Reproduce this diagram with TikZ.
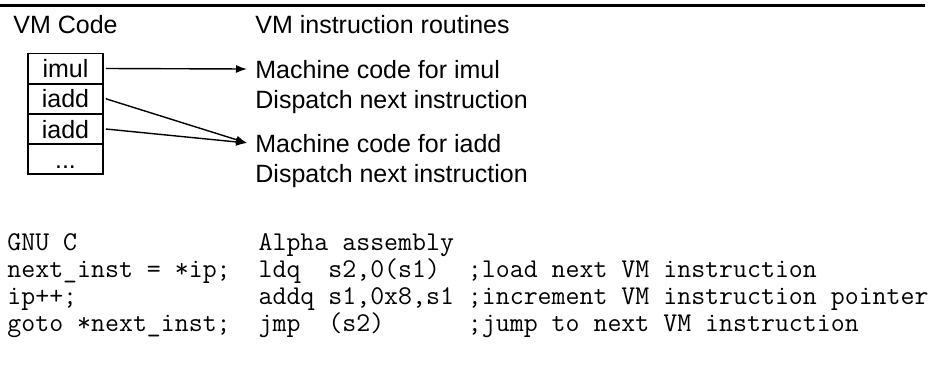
\documentclass[tikz,border=0pt]{standalone}
\usepackage{fontspec}
\setmainfont{Liberation Sans}
\usetikzlibrary{arrows.meta}
\begin{document}
\begin{tikzpicture}[x=0.5pt,y=-0.5pt,
  sans/.style={font=\fontsize{12.5}{15}\selectfont, inner sep=0pt, anchor=base west},
  mono/.style={font=\fontsize{13.55}{15}\selectfont\ttfamily\frenchspacing, inner sep=0pt, anchor=base west},
  cell/.style={draw, line width=0.8pt, minimum width=37.5pt, minimum height=15pt, inner sep=0pt,
    text height=9pt, text depth=0pt, font=\fontsize{12.5}{15}\selectfont},
  link/.style={line width=0.7pt, -{Latex[length=5.5pt,width=4pt]}}]
\useasboundingbox (0,0) rectangle (930,370);
\draw[line width=1.5pt] (0,5) coordinate (r0) -- (925,5) coordinate (r1);
\node[sans] (hvm) at (13,33) {VM Code};
\node[sans] (hroute) at (255,33) {VM instruction routines};
\node[cell] (c1) at (65.5,68.5) {imul};
\node[cell] (c2) at (65.5,98.75) {iadd};
\node[cell] (c3) at (65.5,129) {iadd};
\node[cell] (c4) at (65.5,159.25) {...};
\node[sans] (m1) at (255,78) {Machine code for imul};
\node[sans] (d1) at (255,108) {Dispatch next instruction};
\node[sans] (m2) at (255,152) {Machine code for iadd};
\node[sans] (d2) at (255,182) {Dispatch next instruction};
\coordinate (t1) at (247,69);
\coordinate (t2) at (247,143);
\draw[link] ([xshift=1pt]c1.east) -- (t1);
\draw[link] ([xshift=1pt]c2.east) -- (t2);
\draw[link] ([xshift=1pt]c3.east) -- (t2);
\node[mono] (l0) at (7,250) {GNU\ C\ \ \ \ \ \ \ \ \ \ \ \ \ Alpha\ assembly};
\node[mono] (l1) at (7,277) {next\_inst\ =\ *ip;\ \ ldq\ \ s2,0(s1)\ \ ;load\ next\ VM\ instruction};
\node[mono] (l2) at (7,304) {ip++;\ \ \ \ \ \ \ \ \ \ \ \ \ addq\ s1,0x8,s1\ ;increment\ VM\ instruction\ pointer};
\node[mono] (l3) at (7,331) {goto\ *next\_inst;\ \ jmp\ \ (s2)\ \ \ \ \ \ ;jump\ to\ next\ VM\ instruction};
\end{tikzpicture}
\end{document}
